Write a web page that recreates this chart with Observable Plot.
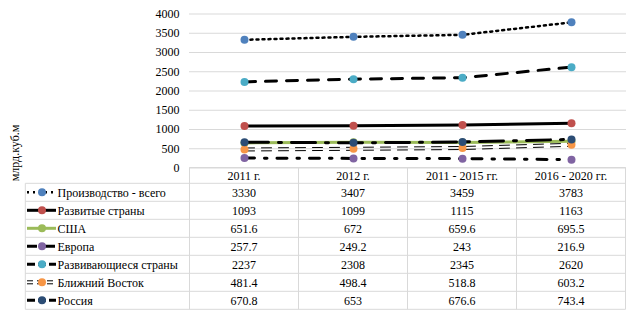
<!DOCTYPE html>
<html><head><meta charset="utf-8">
<script src="https://cdn.jsdelivr.net/npm/d3@7"></script>
<script src="https://cdn.jsdelivr.net/npm/@observablehq/plot@0.6"></script>
<style>
body{margin:0;background:#fff;overflow:hidden}
svg text{font-family:"Liberation Serif","Times New Roman",serif !important;font-size:12px !important;fill:#000}
</style>
</head><body><div id="chart"></div>
<script>
const categories = ["2011 г.", "2012 г.", "2011 - 2015 гг.", "2016 - 2020 гг."];
const seriesNames = ["Производство - всего", "Развитые страны", "США", "Европа", "Развивающиеся страны", "Ближний Восток", "Россия"];
const production = [3330, 3407, 3459, 3783];
const developed = [1093, 1099, 1115, 1163];
const usa = [651.6, 672, 659.6, 695.5];
const europe = [257.7, 249.2, 243, 216.9];
const developing = [2237, 2308, 2345, 2620];
const middleEast = [481.4, 498.4, 518.8, 603.2];
const russia = [670.8, 653, 676.6, 743.4];
const yTicks = [0, 500, 1000, 1500, 2000, 2500, 3000, 3500, 4000];
const yLabel = "млрд.куб.м";

const seriesValues = [production, developed, usa, europe, developing, middleEast, russia];
const styles = [
  {stroke: "black", width: 2.5, dash: "2,4", marker: "#4F81BD"},
  {stroke: "black", width: 3, dash: null, marker: "#C0504D"},
  {stroke: "#9BBB59", width: 3, dash: null, marker: "#9BBB59"},
  {stroke: "black", width: 3, dash: "10,10,2.5,10", marker: "#8064A2"},
  {stroke: "black", width: 3, dash: "11,10", marker: "#4BACC6"},
  {stroke: "black", width: 1, dash: "10,7", marker: "#F79646", double: true},
  {stroke: "black", width: 3, dash: "24,10,3,10", marker: "#2C4D75"}
];

const rows = seriesNames.flatMap((s, i) => categories.map((c, j) => ({series: s, idx: i, cat: c, value: seriesValues[i][j]})));

const marks = [
  Plot.gridY({ticks: yTicks, stroke: "#d9d9d9", strokeOpacity: 1, strokeWidth: 1}),
  Plot.axisY({ticks: yTicks, tickSize: 0, tickPadding: 10, label: null, tickFormat: d => String(d)})
];
seriesNames.forEach((s, i) => {
  const d = rows.filter(r => r.idx === i);
  const st = styles[i];
  if (st.double) {
    [-1.5, 1.5].forEach(dy => marks.push(Plot.line(d, {x: "cat", y: "value", stroke: st.stroke, strokeWidth: st.width, strokeDasharray: st.dash, dy})));
  } else {
    marks.push(Plot.line(d, {x: "cat", y: "value", stroke: st.stroke, strokeWidth: st.width, strokeDasharray: st.dash}));
  }
  marks.push(Plot.dot(d, {x: "cat", y: "value", fill: st.marker, r: 4, stroke: "none"}));
});

const W = 639, H = 316;
const plot = Plot.plot({
  width: W, height: H,
  marginTop: 13.5, marginBottom: 148.5, marginLeft: 189, marginRight: 13,
  x: {type: "point", domain: categories, padding: 0.5, axis: null},
  y: {domain: [0, 4000]},
  style: {fontFamily: "'Liberation Serif', 'Times New Roman', serif", fontSize: "12px", color: "black", background: "white"},
  marks
});
document.getElementById("chart").appendChild(plot);

// Data table below the plot, positioned from Plot's own scales
const svg = d3.select(plot);
const xs = plot.scale("x");
const ys = plot.scale("y");
const step = xs.apply(categories[1]) - xs.apply(categories[0]);
const left0 = xs.apply(categories[0]) - step / 2;
const right0 = xs.apply(categories[categories.length - 1]) + step / 2;
const top0 = ys.apply(0);
const headerH = 15.8, rowH = 18;
const tableLeft = 25.3;
const g = svg.append("g").attr("text-anchor", "start");
const gridC = "#d9d9d9";
g.append("line").attr("x1", left0).attr("x2", right0).attr("y1", top0).attr("y2", top0).attr("stroke", gridC);
for (let i = 0; i <= seriesNames.length; i++) {
  const y = top0 + headerH + i * rowH;
  g.append("line").attr("x1", tableLeft).attr("x2", right0).attr("y1", y).attr("y2", y).attr("stroke", gridC);
}
const bottom = top0 + headerH + seriesNames.length * rowH;
g.append("line").attr("x1", tableLeft).attr("x2", tableLeft).attr("y1", top0 + headerH).attr("y2", bottom).attr("stroke", gridC);
for (let j = 0; j <= categories.length; j++) {
  const x = left0 + j * step;
  g.append("line").attr("x1", x).attr("x2", x).attr("y1", top0).attr("y2", bottom).attr("stroke", gridC);
}
categories.forEach(c => {
  g.append("text").attr("x", xs.apply(c)).attr("y", top0 + headerH / 2).attr("text-anchor", "middle").attr("dy", "0.35em").text(c);
});
seriesNames.forEach((s, i) => {
  const cy = top0 + headerH + i * rowH + rowH / 2;
  const st = styles[i];
  const kx1 = 27, kx2 = 56, kc = 42;
  if (st.double) {
    [-1.5, 1.5].forEach(dy => g.append("line").attr("x1", kx1).attr("x2", kx2).attr("y1", cy + dy).attr("y2", cy + dy)
      .attr("stroke", st.stroke).attr("stroke-width", st.width).attr("stroke-dasharray", "6,4"));
  } else {
    g.append("line").attr("x1", kx1).attr("x2", kx2).attr("y1", cy).attr("y2", cy)
      .attr("stroke", st.stroke).attr("stroke-width", st.width).attr("stroke-dasharray", st.dash ? (i === 0 ? "2,4" : i === 3 ? "10,3,2,3" : "8,3") : null);
  }
  g.append("circle").attr("cx", kc).attr("cy", cy).attr("r", 4).attr("fill", st.marker);
  g.append("text").attr("x", 57.5).attr("y", cy).attr("dy", "0.35em").attr("text-anchor", "start").text(s);
  categories.forEach((c, j) => {
    g.append("text").attr("x", xs.apply(c)).attr("y", cy).attr("dy", "0.35em").attr("text-anchor", "middle").text(String(seriesValues[i][j]));
  });
});
svg.append("text").attr("transform", `translate(15,${153}) rotate(-90)`).attr("text-anchor", "middle").attr("dy", "0.35em").text(yLabel);
</script>
</body></html>
